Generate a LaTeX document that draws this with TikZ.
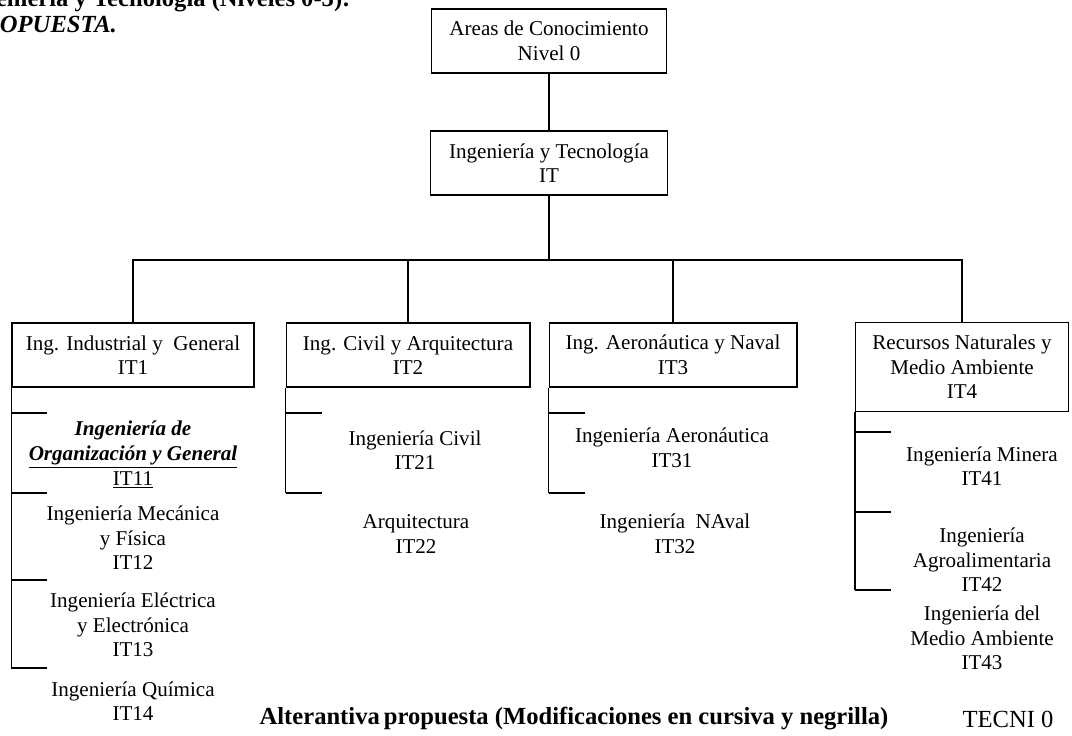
\documentclass[tikz,border=0pt]{standalone}
\usepackage{fontspec}
\setmainfont{Liberation Serif}
\usetikzlibrary{positioning}

\begin{document}
\begin{tikzpicture}[x=0.02cm, y=-0.02cm, line width=0.6pt, font=\fontsize{12}{14}\selectfont]
        \tikzset{area/.style={rectangle, draw, align=center, minimum height=1.28cm, inner sep=2pt}}
        \tikzset{item/.style={align=center, inner sep=0pt}}
        \tikzset{big/.style={font=\fontsize{14}{16}\selectfont}}

        \useasboundingbox (0,0) rectangle (1072,736);
        \clip (0,0) rectangle (1072,736);

        % Title, cut by the page edge
        \node [big, anchor=base west, inner sep=0pt, font=\fontsize{14}{16}\selectfont\bfseries] (title) at (-40,7) {Ingeniería y Tecnología (Niveles 0-3):};
        \node [big, anchor=base west, inner sep=0pt, font=\fontsize{14}{16}\selectfont\bfseries\itshape] (prop) at (-32,33) {PROPUESTA.};

        % Levels 0 and 1
        \node [area, minimum width=4.7cm] (top) at (549,41) {Areas de Conocimiento\\Nivel 0};
        \node [area, minimum width=4.74cm] (it) at (549,163) {Ingeniería y Tecnología\\IT};

        % Level 2
        \node [area, minimum width=4.84cm] (it1) at (133,355) {Ing. Industrial y \ General\\IT1};
        \node [area, minimum width=4.88cm] (it2) at (408,355) {Ing. Civil y Arquitectura\\IT2};
        \node [area, minimum width=4.96cm] (it3) at (673,355) {Ing. Aeronáutica y Naval\\IT3};
        \node [area, minimum width=4.26cm, minimum height=1.78cm] (it4) at (962,367) {Recursos Naturales y\\Medio Ambiente\\IT4};

        % Tree lines
        \coordinate (bar) at (549,260);
        \draw (top) -- (it);
        \draw (it) -- (bar);
        \draw (it1.north) |- (bar) -| (it4.north);
        \draw (it2.north) -- (it2.north |- bar);
        \draw (it3.north) -- (it3.north |- bar);

        % Level 3 under IT1
        \draw (it1.south west) -- (it1.south west |- 0,668);
        \foreach \y in {413,493,580,668}
          \draw (it1.south west |- 0,\y) -- ++(36,0);
        \node [item] (it11) at (133,455) {\textbf{\textit{Ingeniería de}}\\\underline{\textbf{\textit{Organización y General}}}\\\underline{IT11}};
        \node [item] (it12) at (133,538) {Ingeniería Mecánica\\y Física\\IT12};
        \node [item] (it13) at (133,625) {Ingeniería Eléctrica\\y Electrónica\\IT13};
        \node [item] (it14) at (133,701) {Ingeniería Química\\IT14};

        % Level 3 under IT2
        \draw (it2.south west) -- (it2.south west |- 0,493);
        \foreach \y in {413,493}
          \draw (it2.south west |- 0,\y) -- ++(36,0);
        \node [item] (it21) at (415,450) {Ingeniería Civil\\IT21};
        \node [item] (it22) at (416,534) {Arquitectura\\IT22};

        % Level 3 under IT3
        \draw (it3.south west) -- (it3.south west |- 0,493);
        \foreach \y in {413,493}
          \draw (it3.south west |- 0,\y) -- ++(36,0);
        \node [item] (it31) at (672,448) {Ingeniería Aeronáutica\\IT31};
        \node [item] (it32) at (675,534) {Ingeniería \ NAval\\IT32};

        % Level 3 under IT4
        \draw (it4.south west) -- (it4.south west |- 0,590);
        \foreach \y in {432,512,590}
          \draw (it4.south west |- 0,\y) -- ++(36,0);
        \node [item] (it41) at (982,466) {Ingeniería Minera\\IT41};
        \node [item] (it42) at (982,560) {Ingeniería\\Agroalimentaria\\IT42};
        \node [item] (it43) at (982,638) {Ingeniería del\\Medio Ambiente\\IT43};

        % Footer
        \node [big, font=\fontsize{14}{16}\selectfont\bfseries] (note) at (574,719) {Alterantiva\,propuesta (Modificaciones en cursiva y negrilla)};
        \node [big] (tecni) at (1008,719) {TECNI 0};
\end{tikzpicture}
\end{document}
